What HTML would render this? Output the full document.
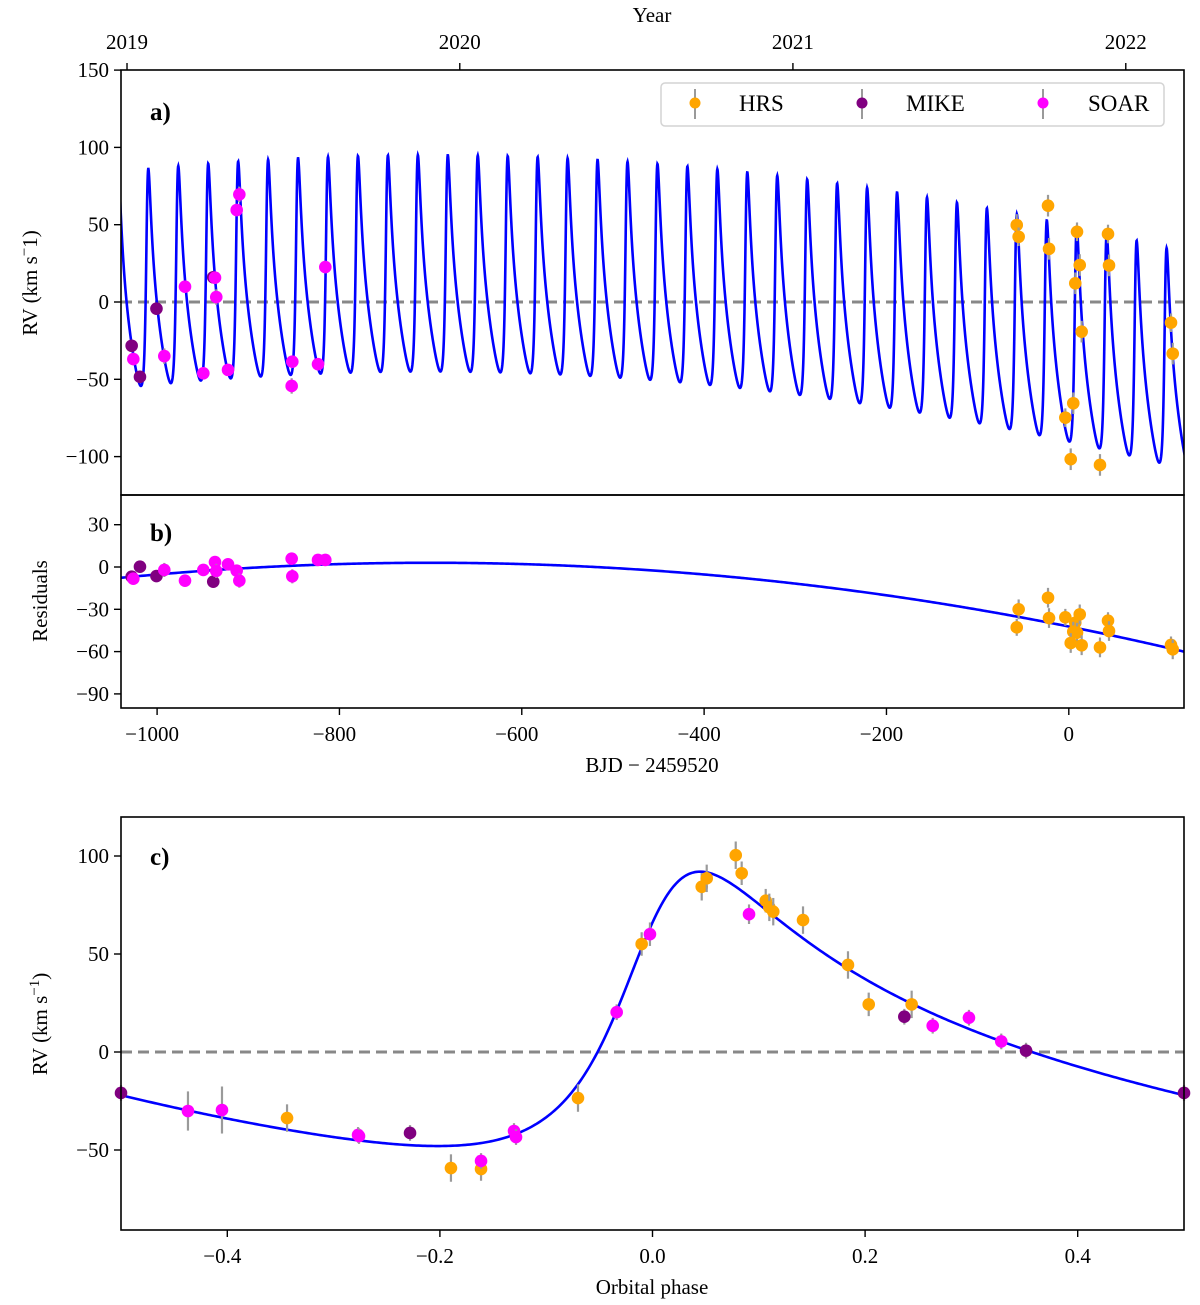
<!DOCTYPE html>
<html><head><meta charset="utf-8">
<style>
html,body{margin:0;padding:0;background:#fff;}
svg{display:block;font-family:"Liberation Serif",serif;}
</style></head>
<body>
<svg id="fig" width="1200" height="1305" viewBox="0 0 1200 1305" xmlns="http://www.w3.org/2000/svg"></svg>
<script>
// ---------- data (panel a: time vs RV) ----------
const hrsT = [-57.1,-55.0,-22.8,-21.7,9.0,12.0,7.1,14.1,4.9,-3.8,2.1,43.0,44.1,34.2,112.1,114.0];
const hrsRV = [49.8,42.2,62.3,34.4,45.4,23.9,12.1,-19.2,-65.5,-74.8,-101.7,44.0,23.7,-105.4,-13.4,-33.4];
const mikeT = [-1027.9,-1018.8,-1000.7,-938.4];
const mikeRV = [-28.3,-48.4,-4.3,16.0];
const soarT = [-1026.1,-992.1,-969.4,-949.3,-936.5,-935.1,-922.2,-912.7,-909.8,-851.7,-852.4,-823.5,-815.5];
const soarRV = [-36.9,-35.0,9.9,-46.1,15.7,3.2,-43.9,59.5,69.6,-38.6,-54.3,-40.2,22.6];
// ---------- panel b residuals ----------
const hrsRes = [-30.0,-42.8,-21.8,-36.2,-39.5,-33.6,-45.9,-46.6,-53.9,-35.7,-55.5,-38.1,-45.4,-57.0,-55.3,-58.4];
const hrsResT = [-55.0,-57.1,-22.8,-21.7,7.1,12.0,4.9,9.0,2.1,-3.8,14.1,43.0,44.1,34.2,112.1,114.0];
const mikeRes = [-6.9,0.2,-6.4,-10.4];
const soarRes = [-8.3,-2.1,-9.7,-2.1,3.5,-2.8,1.9,-2.6,-9.7,5.9,-6.6,5.0,5.0];
const soarResT = [-1026.1,-992.1,-969.4,-949.3,-936.5,-935.1,-922.2,-912.7,-909.8,-852.4,-851.7,-823.5,-815.5];
// ---------- panel c phase-folded ----------
const hrsPh = [0.0783,0.0839,0.0463,0.0510,0.1065,0.1099,0.1136,0.1416,0.1839,0.2034,0.2438,-0.0102,-0.0701,-0.1896,-0.1613,-0.3438];
const hrsPhRV = [100.4,91.2,84.3,88.6,77.2,73.8,71.6,67.3,44.4,24.3,24.3,55.1,-23.5,-59.2,-59.7,-33.7];
const soarPh = [0.0908,-0.0024,-0.0337,0.2636,0.2977,0.3281,-0.4370,-0.4050,-0.2770,-0.2761,-0.1303,-0.1284,-0.1613];
const soarPhRV = [70.3,60.1,20.3,13.4,17.5,5.4,-30.1,-29.6,-42.3,-42.9,-40.3,-43.4,-55.6];
const mikePh = [0.2369,0.3514,-0.2281,-0.5,0.5];
const mikePhRV = [18.0,0.7,-41.3,-20.9,-20.9];
// ---------- errors ----------
const hrsErr = [7,6,7,7,6,7,7,7,7,6,7,6,7,7,6,7];
const mikeErr = [4,4,4,4,4];
const soarErr = [4,5,4,4,4,5,3,4,5,4,5,4,4];
const soarPhErr = [5,6,4,4,4,4,10,12,4,4,4,4,4];
// ---------- ticks ----------
const aYTicks = [150,100,50,0,-50,-100];
const bYTicks = [30,0,-30,-60,-90];
const xTicks = [-1000,-800,-600,-400,-200,0];
const yearTicks = [2019,2020,2021,2022];
const yearT = [-1033.0,-668.0,-302.6,62.5];
const cXTicks = [-0.4,-0.2,0.0,0.2,0.4];
const cXLabels = ["\u22120.4","\u22120.2","0.0","0.2","0.4"];
const cYTicks = [100,50,0,-50];
// ---------- model params ----------
const K = 70, ecc = 0.5, omega = -51*Math.PI/180, P = 32.85, Tp = -1011.1;
const trA = 3, trC = 9.23e-5, trT0 = -700;

const NS = "http://www.w3.org/2000/svg";
const svg = document.getElementById('fig');
function mk(tag, attrs, parent){ const el=document.createElementNS(NS,tag); for(const k in attrs) el.setAttribute(k,attrs[k]); (parent||svg).appendChild(el); return el; }

const L=121, R=1184;
const xT = t => 1068.8 + 0.9117*t;
const yA = v => 302 - v*1.546;
const yB = v => 567 - v*1.41;
const xP = p => L + (p+0.5)*(R-L);
const yC = v => 1052 - v*1.96;

function kep(ph){
  const M = 2*Math.PI*ph;
  let E = M;
  for(let i=0;i<30;i++){ E = E - (E - ecc*Math.sin(E) - M)/(1-ecc*Math.cos(E)); }
  const nu = 2*Math.atan2(Math.sqrt(1+ecc)*Math.sin(E/2), Math.sqrt(1-ecc)*Math.cos(E/2));
  return K*(Math.cos(nu+omega) + ecc*Math.cos(omega));
}
const trend = t => trA - trC*(t-trT0)*(t-trT0);
const fmt = v => (v<0?"\u2212":"")+Math.abs(v);

const defs = mk('defs',{});
const cpa = mk('clipPath',{id:'ca'},defs); mk('rect',{x:L,y:70,width:R-L,height:425},cpa);
const cpb = mk('clipPath',{id:'cb'},defs); mk('rect',{x:L,y:495,width:R-L,height:213},cpb);
const cpc = mk('clipPath',{id:'cc'},defs); mk('rect',{x:L-8,y:817,width:R-L+16,height:413},cpc);

function text(x,y,s,opt){
  const t = mk('text',Object.assign({x:x,y:y,'font-size':21,'text-anchor':'middle',fill:'#000'},opt||{}));
  t.textContent = s; return t;
}
function points(xs,ys,errs,color,xf,yf,scale,g,name){
  for(let i=0;i<xs.length;i++){
    const x=xf(xs[i]), y=yf(ys[i]), e=errs[i%errs.length]*scale;
    const ln = mk('line',{x1:x,x2:x,y1:y-e,y2:y+e,stroke:'#9a9a9a','stroke-width':2.2},g);
    
    
    const c = mk('circle',{cx:x,cy:y,r:6.3,fill:color},g);
    
    
  }
}

// ===== Panel a =====
const ga = mk('g',{'clip-path':'url(#ca)'});


const za = mk('line',{x1:L,x2:R,y1:yA(0),y2:yA(0),stroke:'#888','stroke-width':3,'stroke-dasharray':'11,6'},ga);


let d='';
for(let t=-1045;t<=130;t+=0.25){ const v=kep((t-Tp)/P)+trend(t); d+=(d?'L':'M')+xT(t).toFixed(2)+','+yA(v).toFixed(2); }
const ma = mk('path',{d:d,fill:'none',stroke:'#0000ff','stroke-width':2.6},ga);


points(mikeT,mikeRV,mikeErr,'#800080',xT,yA,1.546,ga,'mike');
points(soarT,soarRV,soarErr,'#ff00ff',xT,yA,1.546,ga,'soar');
points(hrsT,hrsRV,hrsErr,'#ffa500',xT,yA,1.546,ga,'hrs');
const fa = mk('rect',{x:L,y:70,width:R-L,height:425,fill:'none',stroke:'#000','stroke-width':1.6});


aYTicks.forEach(v=>{
  const tk = mk('line',{x1:L-7,x2:L,y1:yA(v),y2:yA(v),stroke:'#000','stroke-width':1.4});
  
  
  const lb = text(L-12,yA(v)+7,fmt(v),{'text-anchor':'end'});
  
  
});
yearTicks.forEach((yr,i)=>{
  const tk = mk('line',{x1:xT(yearT[i]),x2:xT(yearT[i]),y1:63,y2:70,stroke:'#000','stroke-width':1.4});
  
  
  const lb = text(xT(yearT[i]),49,String(yr));
  
  
});
const yl = text(652,22,'Year');


const la = text(150,120,'a)',{'font-size':25,'font-weight':'bold','text-anchor':'start'});


const ya = mk('text',{x:0,y:0,'font-size':21,'text-anchor':'middle',transform:'translate(37,283) rotate(-90)'});


ya.innerHTML = 'RV (km s<tspan dy="-8" font-size="15">\u2212</tspan><tspan dy="8">1)</tspan>';

// legend
const lg = mk('g',{});


mk('rect',{x:661,y:83,width:503,height:43,rx:4,fill:'#fff',stroke:'#d4d4d4','stroke-width':1.5},lg);
[['HRS','#ffa500',695,739],['MIKE','#800080',862,906],['SOAR','#ff00ff',1043,1088]].forEach(e=>{
  const g = mk('g',{},lg);
  
  
  mk('line',{x1:e[2],x2:e[2],y1:89,y2:119,stroke:'#9a9a9a','stroke-width':2},g);
  mk('circle',{cx:e[2],cy:103,r:5.5,fill:e[1]},g);
  const t = text(e[3],111,e[0],{'text-anchor':'start','font-size':23});
  g.appendChild(t);
});

// ===== Panel b =====
const gb = mk('g',{'clip-path':'url(#cb)'});


d='';
for(let t=-1045;t<=130;t+=2){ d+=(d?'L':'M')+xT(t).toFixed(2)+','+yB(trend(t)).toFixed(2); }
const mb = mk('path',{d:d,fill:'none',stroke:'#0000ff','stroke-width':2.6},gb);


points(mikeT,mikeRes,mikeErr,'#800080',xT,yB,1.41,gb,'mike-residual');
points(soarResT,soarRes,soarErr,'#ff00ff',xT,yB,1.41,gb,'soar-residual');
points(hrsResT,hrsRes,hrsErr,'#ffa500',xT,yB,1.41,gb,'hrs-residual');
const fb = mk('rect',{x:L,y:495,width:R-L,height:213,fill:'none',stroke:'#000','stroke-width':1.6});


bYTicks.forEach(v=>{
  const tk = mk('line',{x1:L-7,x2:L,y1:yB(v),y2:yB(v),stroke:'#000','stroke-width':1.4});
  
  
  const lb = text(L-12,yB(v)+7,fmt(v),{'text-anchor':'end'});
  
  
});
xTicks.forEach(v=>{
  const tk = mk('line',{x1:xT(v),x2:xT(v),y1:708,y2:715,stroke:'#000','stroke-width':1.4});
  
  
  const lb = text(xT(v)-(v<0?5:0),741,fmt(v));
  
  
});
const xb = text(652,772,'BJD \u2212 2459520');


const lbb = text(150,541,'b)',{'font-size':25,'font-weight':'bold','text-anchor':'start'});


const yb = text(0,0,'Residuals',{transform:'translate(47,601) rotate(-90)'});



// ===== Panel c =====
const gc = mk('g',{'clip-path':'url(#cc)'});


const zc = mk('line',{x1:L,x2:R,y1:yC(0),y2:yC(0),stroke:'#888','stroke-width':3,'stroke-dasharray':'11,6'},gc);


d='';
for(let p=-0.5;p<=0.5001;p+=0.002){ d+=(d?'L':'M')+xP(p).toFixed(2)+','+yC(kep(p)).toFixed(2); }
const mc = mk('path',{d:d,fill:'none',stroke:'#0000ff','stroke-width':2.6},gc);


points(hrsPh,hrsPhRV,hrsErr,'#ffa500',xP,yC,1.96,gc,'hrs-phase');
points(soarPh,soarPhRV,soarPhErr,'#ff00ff',xP,yC,1.96,gc,'soar-phase');
points(mikePh,mikePhRV,mikeErr,'#800080',xP,yC,1.96,gc,'mike-phase');
const fc = mk('rect',{x:L,y:817,width:R-L,height:413,fill:'none',stroke:'#000','stroke-width':1.6});


cYTicks.forEach(v=>{
  const tk = mk('line',{x1:L-7,x2:L,y1:yC(v),y2:yC(v),stroke:'#000','stroke-width':1.4});
  
  
  const lb = text(L-12,yC(v)+7,fmt(v),{'text-anchor':'end'});
  
  
});
cXTicks.forEach((v,i)=>{
  const tk = mk('line',{x1:xP(v),x2:xP(v),y1:1230,y2:1237,stroke:'#000','stroke-width':1.4});
  
  
  const lb = text(xP(v)-(v<0?5:0),1263,cXLabels[i]);
  
  
});
const xc = text(652,1294,'Orbital phase');


const lc = text(150,865,'c)',{'font-size':25,'font-weight':'bold','text-anchor':'start'});


const yc = mk('text',{x:0,y:0,'font-size':21,'text-anchor':'middle',transform:'translate(47,1024) rotate(-90)'});


yc.innerHTML = 'RV (km s<tspan dy="-8" font-size="15">\u22121</tspan><tspan dy="8">)</tspan>';
</script>
</body></html>
